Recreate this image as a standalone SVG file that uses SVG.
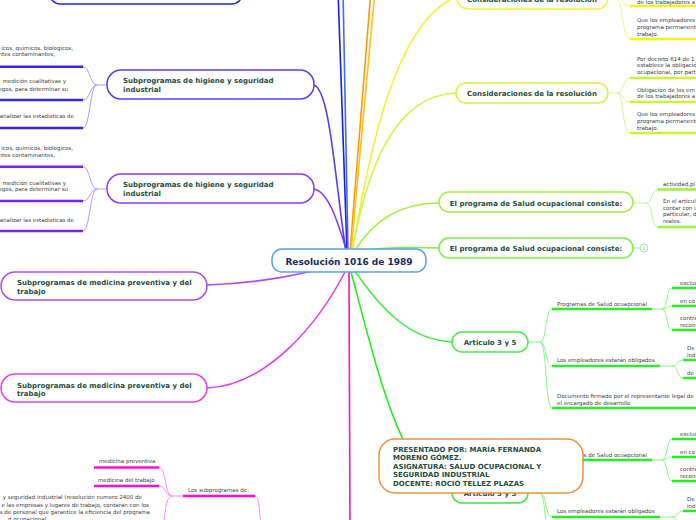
<svg xmlns="http://www.w3.org/2000/svg" width="696" height="520" viewBox="0 0 696 520">
<style>
.box{fill:#fff;stroke-width:1.5}
.nt{font-family:"DejaVu Sans",Verdana,sans-serif;font-weight:bold;font-size:7px;fill:#1e4d3d}
.ct{font-family:"DejaVu Sans",Verdana,sans-serif;font-size:5.5px;fill:#404040}
.ctr{font-family:"DejaVu Sans",Verdana,sans-serif;font-size:5.5px;fill:#404040;text-anchor:end}
.mid{text-anchor:middle}
.ul{fill:none;stroke-width:2.5}
.br{fill:none;stroke-width:1}
.cn{fill:none;stroke-width:1.6}
</style>
<rect width="696" height="520" fill="#fff"/>
<g id="connectors">
  <path class="cn" stroke="#1a1aff" d="M347,252 L338,-10"/>
  <path class="cn" stroke="#3d6bff" d="M348,252 L343,-10"/>
  <path class="cn" stroke="#ff9a00" d="M350,252 L371,-10"/>
  <path class="cn" stroke="#ffc21a" d="M351,252 L375,-10"/>
  <path class="cn" stroke="#f2f23a" d="M352,252 C370,150 395,20 458,-4"/>
  <path class="cn" stroke="#cff53c" d="M352,252 C365,180 390,95 456,93"/>
  <path class="cn" stroke="#a2f03c" d="M354,252 C370,225 395,203 439,203"/>
  <path class="cn" stroke="#78f03c" d="M354,252 C380,247 410,247 439,248"/>
  <path class="cn" stroke="#45ec45" d="M354,270 C375,300 405,340 452,342"/>
  <path class="cn" stroke="#22ee22" d="M351,272 C375,360 400,480 452,493"/>
  <path class="cn" stroke="#ff14b4" stroke-width="2" d="M349,272 L350,530"/>
  <path class="cn" stroke="#e040f0" d="M345,272 C320,320 270,385 207,388"/>
  <path class="cn" stroke="#b24cf0" d="M349,262 C300,275 260,283 207,285"/>
  <path class="cn" stroke="#8b3cf5" d="M347,252 C340,230 330,192 314,189"/>
  <path class="cn" stroke="#5b3cf5" d="M346,252 C335,180 330,90 314,85"/>
  <path class="br" stroke="#f2f28a" d="M608,-2 L616,-2 M616,-2 C623,-2 623,6 630,6 M616,-2 C623,-2 622,39 630,39"/>
  <path class="ul" stroke="#f5f515" d="M630,6 H700 M630,39 H700"/>
  <path class="br" stroke="#ddf58a" d="M608,93 L617,93 M617,93 C624,93 623,78 630,78 M617,93 C624,93 623,102 630,102 M617,93 C624,93 622,133 630,133"/>
  <path class="ul" stroke="#ccf52a" d="M630,78 H700 M630,102 H700 M630,133 H700"/>
  <path class="br" stroke="#bff58a" d="M633,203 L646,203 M646,203 C653,203 651,189.5 658,189.5 M646,203 C653,203 651,227 658,227"/>
  <path class="ul" stroke="#99f53a" d="M658,189.5 H700 M658,227 H700"/>
  <path class="br" stroke="#9cf09c" d="M633,248 L640,248"/>
  <path class="br" stroke="#8cf58c" d="M528,342 L540,342 M540,342 C547,342 545,309 552,309 M540,342 C547,342 545,366 552,366 M540,342 C547,342 545,408 552,408"/>
  <path class="ul" stroke="#2aee2a" d="M552,309 H652 M552,366 H660 M552,408 H700"/>
  <path class="br" stroke="#8cf58c" d="M652,309 L662,309 M662,309 C668,309 666,288 672,288 M662,309 C668,309 666,306 672,306 M662,309 C668,309 666,330 672,330"/>
  <path class="ul" stroke="#2aee2a" d="M672,288 H700 M672,306 H700 M672,330 H700"/>
  <path class="br" stroke="#8cf58c" d="M660,366 L672,366 M672,366 C678,366 677,360 683,360 M672,366 C678,366 677,378 683,378"/>
  <path class="ul" stroke="#2aee2a" d="M683,360 H700 M683,378 H700"/>
  <path class="br" stroke="#8cf58c" d="M528,493 L540,493 M540,493 C547,493 545,460 552,460 M540,493 C547,493 545,517 552,517 M540,493 C547,493 545,559 552,559"/>
  <path class="ul" stroke="#22ee22" d="M552,460 H652 M552,517 H660"/>
  <path class="br" stroke="#8cf58c" d="M652,460 L662,460 M662,460 C668,460 666,439 672,439 M662,460 C668,460 666,457 672,457 M662,460 C668,460 666,481 672,481"/>
  <path class="ul" stroke="#22ee22" d="M672,439 H700 M672,457 H700 M672,481 H700"/>
  <path class="br" stroke="#8cf58c" d="M660,517 L672,517 M672,517 C678,517 677,511 683,511 M672,517 C678,517 677,529 683,529"/>
  <path class="ul" stroke="#22ee22" d="M683,511 H700"/>
  <path class="br" stroke="#a899ff" d="M107,85 L97,85 M97,85 C90,85 90,66.7 83,66.7 M97,85 C90,85 90,100 83,100 M97,85 C90,85 90,128 83,128"/>
  <path class="ul" stroke="#3a22f0" d="M83,66.7 H-5 M83,100 H-5 M83,128 H-5"/>
  <path class="br" stroke="#bb99ff" d="M107,189 L97,189 M97,189 C90,189 90,166.7 83,166.7 M97,189 C90,189 90,201 83,201 M97,189 C90,189 90,231 83,231"/>
  <path class="ul" stroke="#7a22f5" d="M83,166.7 H-5 M83,201 H-5 M83,231 H-5"/>
  <path class="br" stroke="#ff88ee" d="M255,496 C261,498 258,515 262,528 M183,496 L172,496 M172,496 C165,496 166,467.5 159,467.5 M172,496 C165,496 166,486 159,486 M172,496 C165,496 166,515 162,528"/>
  <path class="ul" stroke="#ff10d0" d="M183,496 H255 M159,467.5 H94 M159,486 H94"/>
</g>
<g id="node-top-left"><rect class="box" x="50" y="-30" width="192" height="34" rx="10" stroke="#2020f0"/></g>
<g id="node-consideraciones-1">
  <rect class="box" x="457" y="-14" width="151" height="23" rx="11" stroke="#f2f23a"/>
  <text class="nt mid" x="532" y="2">Consideraciones de la resolución</text>
</g>
<g id="cons1-children">
  <text class="ct" x="637" y="4">de los trabajadores a</text>
  <text class="ct" x="637" y="21.5">Que los empleadores</text>
  <text class="ct" x="637" y="28.5">programa permanent</text>
  <text class="ct" x="637" y="35.5">trabajo.</text>
</g>
<g id="node-consideraciones-2">
  <rect class="box" x="456" y="83" width="152" height="20" rx="10" stroke="#cff53c"/>
  <text class="nt mid" x="532" y="96">Consideraciones de la resolución</text>
</g>
<g id="cons2-children">
  <text class="ct" x="637" y="60.5">Por decreto 614 de 1</text>
  <text class="ct" x="637" y="67">establece la obligació</text>
  <text class="ct" x="637" y="73.5">ocupacional, por part</text>
  <text class="ct" x="637" y="91.5">Obligación de los em</text>
  <text class="ct" x="637" y="98">de los trabajadores a</text>
  <text class="ct" x="637" y="115.5">Que los empleadores</text>
  <text class="ct" x="637" y="122.5">programa permanent</text>
  <text class="ct" x="637" y="129.5">trabajo.</text>
</g>
<g id="node-programa-1">
  <rect class="box" x="439" y="192" width="194" height="20" rx="10" stroke="#a2f03c"/>
  <text class="nt mid" x="536" y="205.5">El programa de Salud ocupacional consiste:</text>
</g>
<g id="programa1-children">
  <text class="ct" x="663" y="185.5">actividad,pl</text>
  <text class="ct" x="663" y="203">En el articul</text>
  <text class="ct" x="663" y="209.5">contar con u</text>
  <text class="ct" x="663" y="216">particular, d</text>
  <text class="ct" x="663" y="223">reales.</text>
</g>
<g id="node-programa-2">
  <rect class="box" x="439" y="238" width="194" height="20" rx="10" stroke="#78f03c"/>
  <text class="nt mid" x="536" y="251">El programa de Salud ocupacional consiste:</text>
  <circle cx="644" cy="248" r="4" fill="#fff" stroke="#9cf09c" stroke-width="1"/>
  <text x="644" y="250" font-family="DejaVu Sans,sans-serif" font-size="5px" fill="#8cd88c" text-anchor="middle">1</text>
</g>
<g id="node-articulo-1">
  <rect class="box" x="452" y="332" width="76" height="20" rx="10" stroke="#45ec45"/>
  <text class="nt mid" x="490" y="344.5">Articulo 3 y 5</text>
</g>
<g id="articulo1-children">
  <text class="ct" x="557" y="305.5">Programas de Salud ocuapcional</text>
  <text class="ct" x="680" y="284.5">exclus</text>
  <text class="ct" x="680" y="302.5">en co</text>
  <text class="ct" x="680" y="320">contra</text>
  <text class="ct" x="680" y="326.5">recono</text>
  <text class="ct" x="557" y="361.5">Los empleadores estarán obligados</text>
  <text class="ct" x="687" y="349.5">De</text>
  <text class="ct" x="687" y="356.5">ind</text>
  <text class="ct" x="687" y="374.5">de</text>
  <text class="ct" x="557" y="397.5">Documento firmado por el representante legal de</text>
  <text class="ct" x="557" y="404.5">el encargado de desarrollo</text>
</g>
<g id="node-articulo-2">
  <rect class="box" x="452" y="483" width="76" height="20" rx="10" stroke="#35ec35"/>
  <text class="nt mid" x="490" y="495.5">Articulo 3 y 5</text>
</g>
<g id="articulo2-children">
  <text class="ct" x="557" y="456.5">Programas de Salud ocuapcional</text>
  <text class="ct" x="680" y="435.5">exclus</text>
  <text class="ct" x="680" y="453.5">en co</text>
  <text class="ct" x="680" y="471">contra</text>
  <text class="ct" x="680" y="477.5">recono</text>
  <text class="ct" x="557" y="512.5">Los empleadores estarán obligados</text>
  <text class="ct" x="687" y="500.5">De</text>
  <text class="ct" x="687" y="507.5">ind</text>
</g>
<g id="node-higiene-1">
  <rect class="box" x="107" y="70" width="207" height="29" rx="14" stroke="#5b3cf5"/>
  <text class="nt" x="123" y="82.5">Subprogramas de higiene y seguridad</text>
  <text class="nt" x="123" y="91.5">industrial</text>
</g>
<g id="higiene1-children">
  <text class="ctr" x="73" y="49.5">icos, químicos, biologicos,</text>
  <text class="ctr" x="55" y="55.5">ntes contaminantes,</text>
  <text class="ctr" x="66" y="83">medición cualitativas y</text>
  <text class="ctr" x="68" y="90.5">egos, para determinar su</text>
  <text class="ctr" x="74" y="117.5">analizar las estadisticas de</text>
</g>
<g id="node-higiene-2">
  <rect class="box" x="107" y="174" width="207" height="29" rx="14" stroke="#8b3cf5"/>
  <text class="nt" x="123" y="186.5">Subprogramas de higiene y seguridad</text>
  <text class="nt" x="123" y="195.5">industrial</text>
</g>
<g id="higiene2-children">
  <text class="ctr" x="73" y="149.5">icos, químicos, biologicos,</text>
  <text class="ctr" x="55" y="156.5">ntes contaminantes,</text>
  <text class="ctr" x="66" y="184.5">medición cualitativas y</text>
  <text class="ctr" x="68" y="190.5">egos, para determinar su</text>
  <text class="ctr" x="74" y="221.5">analizar las estadisticas de</text>
</g>
<g id="node-medicina-1">
  <rect class="box" x="1" y="272" width="206" height="28" rx="14" stroke="#b24cf0"/>
  <text class="nt" x="17" y="284.5">Subprogramas de medicina preventiva y del</text>
  <text class="nt" x="17" y="293.5">trabajo</text>
</g>
<g id="node-medicina-2">
  <rect class="box" x="1" y="374" width="206" height="28" rx="14" stroke="#e040f0"/>
  <text class="nt" x="17" y="387.5">Subprogramas de medicina preventiva y del</text>
  <text class="nt" x="17" y="396">trabajo</text>
</g>
<g id="subprogramas-cluster">
  <text class="ct" x="188" y="491.5">Los subprogramas de:</text>
  <text class="ct" x="99" y="463">medicina preventiva</text>
  <text class="ct" x="98" y="481.5">medicina del trabajo</text>
  <text class="ctr" x="142" y="499">y seguridad industrial (resolución numero 2400 de</text>
  <text class="ctr" x="149" y="507">e las empresas y lugares de trabajo, contaran con los</text>
  <text class="ctr" x="150" y="514">s de personal que garantice la eficiencia del programa</text>
  <text class="ctr" x="48" y="521">d ocupacional.</text>
</g>
<g id="node-root">
  <rect class="box" x="272" y="249" width="154" height="23" rx="10" stroke="#5aa2dc"/>
  <text x="349" y="264.5" font-family="DejaVu Sans,Verdana,sans-serif" font-weight="bold" font-size="9px" fill="#182c5c" text-anchor="middle">Resolución 1016 de 1989</text>
</g>
<g id="node-presentado">
  <rect class="box" x="379" y="439" width="204" height="54" rx="16" stroke="#f0913a"/>
  <text class="nt" x="393" y="451.5">PRESENTADO POR: MARÍA FERNANDA</text>
  <text class="nt" x="393" y="460">MORENO GÓMEZ.</text>
  <text class="nt" x="393" y="468.5">ASIGNATURA: SALUD OCUPACIONAL Y</text>
  <text class="nt" x="393" y="477">SEGURIDAD INDUSTRIAL</text>
  <text class="nt" x="393" y="485.5">DOCENTE: ROCIO TELLEZ PLAZAS</text>
</g>
</svg>
